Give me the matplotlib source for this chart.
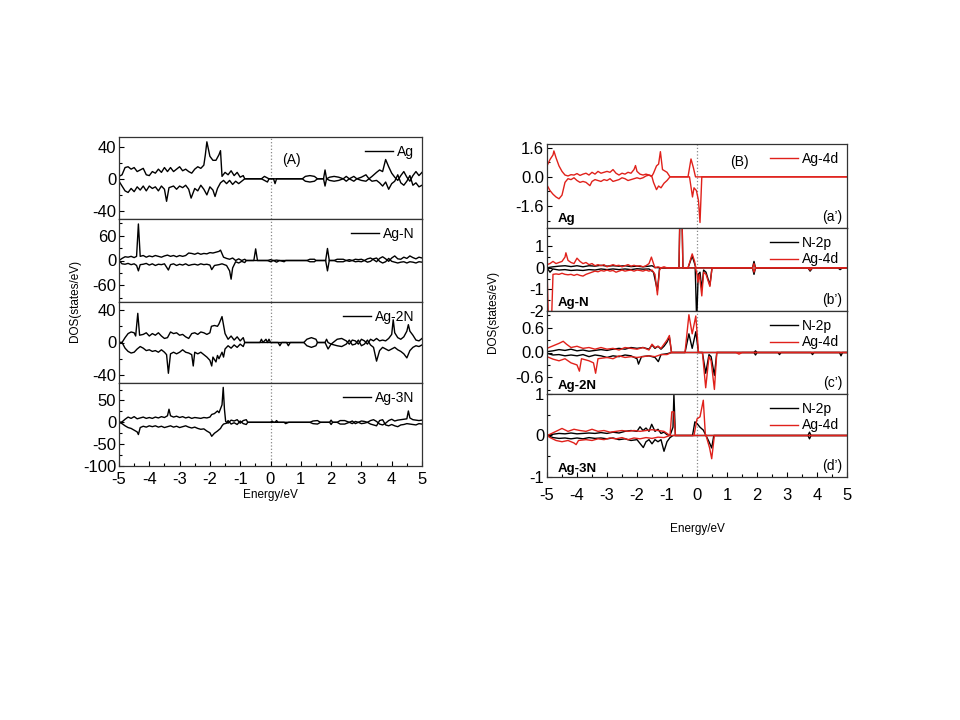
import matplotlib
matplotlib.use("Agg")
import matplotlib.pyplot as plt
from matplotlib.ticker import MultipleLocator

plt.rcParams['font.family'] = ['Liberation Sans', 'DejaVu Sans']
plt.rcParams['axes.unicode_minus'] = False

# ---------------- panel (A): total DOS, spin up / spin down ----------------
a1_up_e = [-5.0, -4.9, -4.8, -4.7, -4.6, -4.5, -4.4, -4.3, -4.2, -4.1, -4.0, -3.9, -3.8, -3.7, -3.6, -3.5, -3.4, -3.3, -3.2, -3.1, -3.0, -2.9, -2.8, -2.7, -2.6, -2.5, -2.4, -2.3, -2.2, -2.15, -2.1, -2.0, -1.9, -1.8, -1.7, -1.65, -1.6, -1.5, -1.4, -1.3, -1.2, -1.1, -1.0, -0.9, -0.85, -0.3, -0.2, -0.1, -0.05, 1.05, 1.15, 1.3, 1.45, 1.55, 1.75, 1.8, 1.85, 1.95, 2.1, 2.25, 2.4, 2.5, 2.6, 2.75, 2.85, 3.0, 3.15, 3.25, 3.35, 3.5, 3.6, 3.7, 3.8, 3.9, 4.0, 4.1, 4.2, 4.3, 4.4, 4.5, 4.6, 4.7, 4.8, 4.9, 5.0]
a1_up_v = [3, 5, 14, 15, 12, 14, 9, 11, 13, 5, 4, 9, 7, 12, 8, 14, 9, 14, 9, 12, 15, 10, 12, 9, 7, 12, 15, 13, 17, 30, 46, 28, 23, 23, 30, 35, 3, 8, 5, 10, 4, 8, 2, 4, 0, 0, 3, 1, 0, 0, 3, 4, 3, 0, 0, 11, 0, 2, 3, 2, 0, 3, 0, 3, 0, 2, 5, 0, 3, 8, 11, 9, 24, 15, 7, 2, -2, 4, 9, 2, -3, 4, 9, 4, 8]
a1_dn_e = [-5.0, -4.9, -4.8, -4.7, -4.6, -4.5, -4.4, -4.3, -4.2, -4.1, -4.0, -3.9, -3.8, -3.7, -3.6, -3.5, -3.43, -3.35, -3.2, -3.1, -3.0, -2.9, -2.8, -2.7, -2.62, -2.5, -2.4, -2.3, -2.2, -2.1, -2.0, -1.9, -1.83, -1.75, -1.65, -1.55, -1.45, -1.35, -1.25, -1.15, -1.05, -0.95, -0.85, -0.3, -0.2, -0.1, -0.05, 0.1, 0.15, 0.2, 1.05, 1.15, 1.3, 1.45, 1.55, 1.75, 1.8, 1.85, 1.95, 2.1, 2.25, 2.4, 2.5, 2.6, 2.75, 2.85, 3.0, 3.15, 3.25, 3.35, 3.5, 3.6, 3.7, 3.8, 3.9, 4.0, 4.1, 4.2, 4.3, 4.4, 4.5, 4.6, 4.7, 4.8, 4.9, 5.0]
a1_dn_v = [-3, -9, -15, -17, -12, -16, -10, -14, -9, -15, -9, -12, -10, -15, -9, -13, -28, -11, -9, -13, -9, -11, -8, -13, -24, -12, -15, -8, -13, -20, -10, -14, -22, -12, -5, -2, -6, -2, -7, -3, -6, -3, 0, 0, -2, -4, 0, 0, -6, 0, 0, -3, -4, -3, 0, 0, -9, 0, -2, -3, -2, 0, -3, 0, -3, 0, -2, -3, 0, -3, -2, -5, -9, -4, -13, -6, -3, 5, -5, -8, -3, 4, -8, -5, -10, -8]

a2_up_e = [-5.0, -4.9, -4.8, -4.7, -4.6, -4.5, -4.42, -4.36, -4.3, -4.2, -4.1, -4.0, -3.9, -3.8, -3.7, -3.6, -3.5, -3.4, -3.3, -3.2, -3.1, -3.0, -2.9, -2.8, -2.7, -2.6, -2.5, -2.4, -2.3, -2.2, -2.1, -2.0, -1.9, -1.8, -1.7, -1.65, -1.55, -1.45, -1.35, -1.25, -1.15, -1.05, -0.95, -0.85, -0.8, -0.55, -0.49, -0.43, -0.1, 0.0, 0.1, 0.2, 0.3, 1.2, 1.3, 1.45, 1.5, 1.82, 1.88, 1.94, 2.1, 2.2, 2.4, 2.5, 2.6, 2.7, 2.8, 2.9, 3.0, 3.1, 3.2, 3.3, 3.4, 3.5, 3.6, 3.7, 3.8, 3.9, 4.0, 4.1, 4.2, 4.3, 4.4, 4.5, 4.6, 4.7, 4.8, 4.9, 5.0]
a2_up_v = [0, 5, 9, 8, 10, 7, 10, 88, 10, 12, 8, 11, 9, 12, 10, 8, 11, 13, 10, 12, 9, 12, 10, 12, 18, 17, 15, 18, 15, 17, 16, 19, 18, 20, 22, 25, 8, 5, 3, 6, 0, 4, 0, 3, 0, 0, 28, 0, 0, 2, 0, 1, 0, 0, 3, 3, 0, 0, 29, 0, 0, 3, 3, 0, 2, 0, 3, 2, 3, 0, 4, 6, 2, -3, 5, 9, 4, -2, 6, 11, 4, 3, 8, 5, 11, 7, 4, 8, 6]
a2_dn_e = [-5.0, -4.9, -4.8, -4.7, -4.6, -4.5, -4.42, -4.36, -4.3, -4.2, -4.1, -4.0, -3.9, -3.8, -3.7, -3.6, -3.5, -3.37, -3.3, -3.2, -3.1, -3.0, -2.9, -2.8, -2.7, -2.6, -2.5, -2.4, -2.3, -2.2, -2.1, -2.0, -1.94, -1.85, -1.7, -1.6, -1.45, -1.35, -1.3, -1.25, -1.15, -1.05, -0.95, -0.85, -0.8, -0.1, 0.0, 0.1, 0.2, 0.3, 0.45, 0.5, 1.2, 1.3, 1.45, 1.5, 1.82, 1.88, 1.94, 2.1, 2.2, 2.4, 2.5, 2.6, 2.7, 2.8, 2.9, 3.0, 3.1, 3.2, 3.3, 3.4, 3.5, 3.6, 3.7, 3.8, 3.9, 4.0, 4.1, 4.2, 4.3, 4.4, 4.5, 4.6, 4.7, 4.8, 4.9, 5.0]
a2_dn_v = [0, -8, -9, -7, -10, -8, -12, -25, -10, -9, -7, -11, -8, -12, -9, -10, -8, -23, -10, -8, -12, -9, -11, -8, -12, -10, -9, -11, -8, -10, -9, -11, -22, -12, -10, -8, -12, -25, -45, -18, -3, -6, -2, -5, 0, 0, -3, 0, -4, 0, -3, 0, 0, -3, -3, 0, 0, -25, 0, 0, -3, -3, 0, -2, 0, -3, -2, -3, 0, -4, -2, 4, 6, -2, -6, -3, 5, -2, -4, -6, -4, -3, -6, -3, -4, -6, -3, -4]

a3_up_e = [-5.0, -4.9, -4.8, -4.7, -4.6, -4.5, -4.45, -4.38, -4.32, -4.2, -4.1, -4.0, -3.9, -3.8, -3.7, -3.6, -3.5, -3.4, -3.3, -3.2, -3.1, -3.0, -2.9, -2.8, -2.7, -2.6, -2.5, -2.4, -2.3, -2.2, -2.1, -2.0, -1.95, -1.85, -1.75, -1.7, -1.6, -1.5, -1.4, -1.3, -1.2, -1.1, -1.0, -0.9, -0.85, -0.35, -0.3, -0.25, -0.15, -0.1, -0.05, 0.0, 1.1, 1.2, 1.35, 1.5, 1.55, 1.8, 1.85, 1.9, 2.0, 2.2, 2.35, 2.5, 2.6, 2.7, 2.8, 2.9, 3.0, 3.1, 3.2, 3.3, 3.4, 3.5, 3.6, 3.7, 3.8, 3.9, 4.0, 4.05, 4.1, 4.2, 4.3, 4.4, 4.5, 4.55, 4.6, 4.7, 4.8, 4.9, 5.0]
a3_up_v = [0, 0, 6, 11, 13, 12, 8, 36, 9, 10, 12, 8, 11, 9, 12, 8, 5, 6, 13, 11, 12, 9, 10, 7, 5, 11, 12, 10, 13, 12, 10, 12, 20, 21, 20, 23, 32, 11, 4, 8, 3, 7, 2, 6, 0, 0, 4, 0, 4, 0, 4, 0, 0, 4, 6, 4, 0, 0, 4, 0, -2, 4, 5, 2, -2, 3, 2, -2, 4, 2, -2, 4, 2, 5, 2, 3, 2, 5, 10, 28, 12, 6, 4, 7, 14, 22, 14, 9, 3, 2, 5]
a3_dn_e = [-5.0, -4.9, -4.8, -4.7, -4.6, -4.5, -4.4, -4.3, -4.2, -4.1, -4.0, -3.9, -3.8, -3.7, -3.6, -3.5, -3.43, -3.37, -3.3, -3.2, -3.1, -3.0, -2.9, -2.8, -2.7, -2.6, -2.55, -2.5, -2.4, -2.3, -2.2, -2.1, -2.0, -1.94, -1.9, -1.8, -1.75, -1.7, -1.6, -1.55, -1.5, -1.4, -1.3, -1.2, -1.1, -1.0, -0.9, -0.85, 0.25, 0.31, 0.37, 0.53, 0.59, 0.65, 1.1, 1.2, 1.35, 1.5, 1.55, 1.8, 1.9, 2.0, 2.2, 2.35, 2.5, 2.6, 2.7, 2.8, 2.9, 3.0, 3.1, 3.2, 3.3, 3.4, 3.5, 3.6, 3.7, 3.8, 3.9, 4.0, 4.1, 4.2, 4.3, 4.4, 4.5, 4.6, 4.7, 4.8, 4.9, 5.0]
a3_dn_v = [0, 0, -7, -11, -13, -12, -8, -5, -7, -10, -9, -11, -10, -12, -9, -12, -15, -38, -14, -12, -14, -12, -9, -12, -13, -15, -29, -12, -14, -12, -15, -18, -22, -29, -18, -24, -16, -20, -12, -18, -8, -4, -7, -3, -6, -2, -5, 0, 0, -4, 0, 0, -4, 0, 0, -4, -6, -4, 0, 0, -8, -2, -4, -5, -2, 3, -3, -2, 3, -4, -2, 3, -3, -6, -23, -10, -6, -8, -10, -8, -6, -9, -11, -14, -19, -10, -6, -4, -5, -3]

a4_up_e = [-5.0, -4.9, -4.8, -4.7, -4.6, -4.5, -4.4, -4.3, -4.2, -4.1, -4.0, -3.9, -3.8, -3.7, -3.6, -3.5, -3.4, -3.35, -3.3, -3.2, -3.1, -3.0, -2.9, -2.8, -2.7, -2.6, -2.5, -2.4, -2.3, -2.2, -2.1, -2.0, -1.94, -1.85, -1.75, -1.7, -1.6, -1.56, -1.52, -1.48, -1.4, -1.3, -1.2, -1.1, -1.0, -0.9, -0.8, -0.75, 0.0, 0.05, 0.1, 0.15, 0.2, 0.25, 1.3, 1.4, 1.55, 1.65, 1.95, 2.0, 2.05, 2.2, 2.3, 2.45, 2.6, 2.7, 2.8, 2.9, 3.0, 3.1, 3.2, 3.3, 3.4, 3.5, 3.6, 3.7, 3.8, 3.9, 4.0, 4.1, 4.2, 4.3, 4.4, 4.5, 4.55, 4.6, 4.7, 4.8, 4.9, 5.0]
a4_up_v = [0, 1, 7, 12, 9, 13, 8, 10, 12, 9, 11, 9, 12, 10, 13, 11, 15, 30, 15, 12, 14, 11, 13, 10, 12, 9, 11, 10, 9, 11, 10, 12, 18, 20, 26, 22, 40, 80, 30, 2, -2, 5, 3, 6, -2, 4, 6, 0, 0, 3, 0, 0, 4, 0, 0, 3, 4, 0, 0, 5, 0, 0, 4, 4, 0, -3, 2, 0, 3, 2, 0, 4, 6, 2, -4, -6, -2, 4, 7, 3, 5, 6, 7, 8, 26, 10, 6, 5, 4, 5]
a4_dn_e = [-5.0, -4.9, -4.8, -4.7, -4.6, -4.5, -4.4, -4.36, -4.3, -4.2, -4.1, -4.0, -3.9, -3.8, -3.7, -3.6, -3.5, -3.4, -3.3, -3.2, -3.1, -3.0, -2.9, -2.8, -2.7, -2.6, -2.5, -2.4, -2.3, -2.2, -2.1, -2.0, -1.94, -1.85, -1.75, -1.65, -1.6, -1.55, -1.45, -1.4, -1.3, -1.2, -1.1, -1.0, -0.9, -0.8, -0.75, 0.45, 0.5, 0.6, 1.3, 1.4, 1.55, 1.65, 1.95, 2.0, 2.05, 2.2, 2.3, 2.45, 2.6, 2.7, 2.8, 2.9, 3.0, 3.1, 3.2, 3.3, 3.4, 3.5, 3.6, 3.7, 3.8, 3.9, 4.0, 4.1, 4.2, 4.3, 4.4, 4.5, 4.6, 4.7, 4.8, 4.9, 5.0]
a4_dn_v = [0, -3, -8, -12, -14, -18, -22, -28, -12, -9, -11, -8, -10, -8, -11, -9, -12, -10, -8, -11, -9, -12, -10, -8, -11, -13, -11, -14, -16, -15, -20, -24, -32, -25, -20, -14, -8, -4, -2, 4, -4, -1, -5, 3, -3, -5, 0, 0, -3, 0, 0, -3, -4, 0, 0, -5, 0, 0, -4, -4, 0, 3, -3, 0, -3, -2, 0, -4, -6, -8, 4, 6, -6, -8, -5, -8, -10, -6, -5, -3, -4, -5, -6, -3, -4]

# ---------------- panel (B): projected DOS, N-2p and Ag-4d ----------------
b1_d_up_e = [-5.0, -4.9, -4.8, -4.77, -4.7, -4.6, -4.5, -4.4, -4.3, -4.2, -4.1, -4.0, -3.9, -3.8, -3.7, -3.6, -3.5, -3.4, -3.3, -3.2, -3.1, -3.0, -2.9, -2.8, -2.7, -2.6, -2.5, -2.4, -2.3, -2.2, -2.1, -2.05, -2.0, -1.9, -1.8, -1.7, -1.6, -1.5, -1.45, -1.35, -1.28, -1.22, -1.15, -1.1, -1.0, -0.9, -0.3, -0.2, -0.12, -0.05, 5.0]
b1_d_up_v = [0.6, 0.95, 1.2, 1.42, 1.05, 0.6, 0.3, 0.1, 0.05, 0.12, 0.1, 0.18, 0.08, 0.15, 0.2, 0.1, 0.25, 0.15, 0.3, 0.2, 0.25, 0.3, 0.25, 0.4, 0.2, 0.1, 0.2, 0.15, 0.25, 0.2, 0.4, 0.62, 0.3, 0.15, 0.1, 0.15, 0.1, 0.05, 0.2, 0.6, 0.7, 1.38, 0.4, 0.35, 0.25, 0, 0, 0.98, 0.5, 0, 0]
b1_d_dn_e = [-5.0, -4.9, -4.8, -4.7, -4.6, -4.5, -4.4, -4.3, -4.2, -4.1, -4.0, -3.9, -3.8, -3.7, -3.57, -3.5, -3.4, -3.3, -3.2, -3.1, -3.0, -2.9, -2.8, -2.7, -2.6, -2.5, -2.4, -2.3, -2.2, -2.1, -2.0, -1.9, -1.8, -1.7, -1.6, -1.5, -1.45, -1.35, -1.28, -1.2, -1.1, -1.0, -0.9, -0.25, -0.15, -0.1, -0.02, 0.05, 0.1, 0.16, 5.0]
b1_d_dn_v = [-0.45, -0.75, -0.95, -1.1, -1.2, -1.0, -0.3, -0.1, -0.15, -0.05, -0.2, -0.3, -0.25, -0.3, -0.48, -0.25, -0.15, -0.2, -0.25, -0.15, -0.2, -0.1, -0.25, -0.2, -0.15, -0.05, -0.1, -0.2, -0.15, -0.1, -0.05, -0.1, -0.05, 0.05, 0.1, 0.0, -0.3, -0.7, -0.5, -0.6, -0.35, -0.2, 0, 0, -1.1, -0.6, -0.75, -1.3, -2.5, 0, 0]

b2_p_up_e = [-5.0, -4.9, -4.8, -4.6, -4.4, -4.2, -4.0, -3.8, -3.6, -3.4, -3.2, -3.0, -2.8, -2.6, -2.4, -2.2, -2.0, -1.8, -1.6, -1.5, -1.4, -1.2, -0.6, -0.57, -0.5, -0.47, -0.3, -0.16, -0.08, -0.04, 1.85, 1.9, 1.95, 5.0]
b2_p_up_v = [0, 0.03, 0.05, 0.08, 0.1, 0.06, 0.1, 0.05, 0.1, 0.08, 0.12, 0.08, 0.1, 0.08, 0.1, 0.06, 0.08, 0.05, 0.08, 0.1, 0.02, 0, 0, 2.5, 2.5, 0, 0, 0.55, 0.2, 0, 0, 0.3, 0, 0]
b2_p_dn_e = [-5.0, -4.9, -4.8, -4.6, -4.4, -4.2, -4.0, -3.8, -3.6, -3.4, -3.2, -3.0, -2.8, -2.6, -2.4, -2.2, -2.0, -1.8, -1.6, -1.45, -1.32, -1.25, -1.2, -0.06, -0.01, 0.04, 0.1, 0.16, 0.22, 0.3, 0.43, 0.5, 1.85, 1.9, 1.95, 3.7, 3.77, 3.85, 4.7, 4.77, 4.85, 5.0]
b2_p_dn_v = [0, -0.2, -0.05, -0.1, -0.08, -0.12, -0.1, -0.12, -0.08, -0.1, -0.05, -0.08, -0.05, -0.08, -0.05, -0.08, -0.04, -0.06, -0.05, -0.2, -1.05, -0.05, 0, 0, -2.5, -0.3, -0.2, -1.0, -0.1, -0.2, -0.8, 0, 0, -0.3, 0, 0, -0.15, 0, 0, -0.08, 0, 0]
b2_d_up_e = [-5.0, -4.9, -4.8, -4.7, -4.6, -4.5, -4.4, -4.37, -4.3, -4.2, -4.1, -4.0, -3.9, -3.8, -3.7, -3.6, -3.5, -3.4, -3.3, -3.2, -3.1, -3.0, -2.9, -2.8, -2.7, -2.6, -2.5, -2.4, -2.3, -2.2, -2.1, -2.0, -1.9, -1.8, -1.7, -1.6, -1.52, -1.45, -1.4, -1.3, -1.2, -1.1, -1.0, -0.6, -0.57, -0.5, -0.47, -0.3, -0.16, -0.08, -0.04, 1.85, 1.9, 1.95, 5.0]
b2_d_up_v = [0.15, 0.2, 0.3, 0.2, 0.25, 0.3, 0.5, 0.7, 0.35, 0.25, 0.2, 0.45, 0.3, 0.2, 0.25, 0.15, 0.2, 0.1, 0.15, 0.1, 0.15, 0.05, 0.1, 0.15, 0.1, 0.12, 0.05, 0.1, 0.15, 0.08, 0.12, 0.08, 0.1, 0.05, 0.1, 0.2, 0.5, 0.2, 0.0, 0.05, 0.0, 0.05, 0.0, 0, 2.5, 2.5, 0, 0, 0.65, 0.3, 0, 0, 0.2, 0, 0]
b2_d_dn_e = [-5.0, -4.95, -4.85, -4.8, -4.7, -4.6, -4.5, -4.4, -4.3, -4.2, -4.1, -4.0, -3.9, -3.8, -3.7, -3.6, -3.5, -3.4, -3.3, -3.2, -3.1, -3.0, -2.9, -2.8, -2.7, -2.6, -2.5, -2.4, -2.3, -2.2, -2.1, -2.0, -1.9, -1.8, -1.7, -1.6, -1.5, -1.4, -1.32, -1.25, -1.2, -0.05, 0.0, 0.03, 0.08, 0.16, 0.22, 0.3, 0.43, 0.5, 1.85, 1.9, 1.95, 3.7, 3.77, 3.85, 5.0]
b2_d_dn_v = [0, -2.5, -2.5, -0.3, -0.28, -0.3, -0.25, -0.3, -0.32, -0.3, -0.35, -0.3, -0.35, -0.38, -0.3, -0.25, -0.2, -0.15, -0.18, -0.12, -0.15, -0.1, -0.15, -0.12, -0.2, -0.15, -0.1, -0.15, -0.12, -0.1, -0.15, -0.1, -0.12, -0.15, -0.1, -0.15, -0.1, -0.3, -1.25, -0.1, 0, 0, -0.3, -0.66, -0.3, -1.3, -0.2, -0.3, -0.86, 0, 0, -0.2, 0, 0, -0.1, 0, 0]

b3_p_up_e = [-5.0, -4.8, -4.6, -4.4, -4.2, -4.0, -3.8, -3.6, -3.4, -3.2, -3.0, -2.8, -2.6, -2.4, -2.2, -2.0, -1.8, -1.6, -1.5, -1.4, -1.3, -1.2, -1.1, -1.0, -0.92, -0.85, -0.4, -0.27, -0.16, -0.04, 0.05, 1.9, 1.95, 2.0, 5.0]
b3_p_up_v = [0.02, 0.04, 0.07, 0.05, 0.08, 0.04, 0.06, 0.03, 0.05, 0.07, 0.05, 0.08, 0.1, 0.08, 0.12, 0.1, 0.12, 0.08, 0.18, 0.1, 0.15, 0.08, 0.15, 0.25, 0.37, 0, 0, 0.45, 0.1, 0.5, 0, 0, 0.04, 0, 0]
b3_p_dn_e = [-5.0, -4.8, -4.6, -4.4, -4.2, -4.0, -3.8, -3.6, -3.4, -3.2, -3.0, -2.8, -2.6, -2.4, -2.2, -2.0, -1.95, -1.85, -1.6, -1.4, -1.29, -1.2, -1.0, -0.85, 0.18, 0.29, 0.4, 0.47, 0.58, 0.66, 1.9, 1.95, 2.0, 2.7, 2.75, 2.8, 3.8, 3.85, 3.9, 4.75, 4.8, 4.85, 5.0]
b3_p_dn_v = [-0.02, -0.06, -0.05, -0.08, -0.06, -0.08, -0.05, -0.1, -0.06, -0.08, -0.12, -0.08, -0.1, -0.06, -0.08, -0.15, -0.28, -0.1, -0.08, -0.12, -0.22, -0.05, -0.03, 0, 0, -0.5, -0.05, -0.1, -0.55, 0, 0, -0.06, 0, 0, -0.05, 0, 0, -0.05, 0, 0, -0.08, 0, 0]
b3_d_up_e = [-5.0, -4.8, -4.6, -4.46, -4.35, -4.2, -4.0, -3.8, -3.6, -3.4, -3.2, -3.0, -2.8, -2.6, -2.4, -2.2, -2.0, -1.8, -1.6, -1.5, -1.4, -1.3, -1.2, -1.1, -1.0, -0.92, -0.85, -0.4, -0.27, -0.16, -0.04, 0.05, 5.0]
b3_d_up_v = [0.1, 0.16, 0.22, 0.27, 0.2, 0.12, 0.15, 0.1, 0.12, 0.08, 0.12, 0.08, 0.1, 0.06, 0.12, 0.1, 0.08, 0.12, 0.06, 0.2, 0.12, 0.15, 0.1, 0.2, 0.3, 0.41, 0, 0, 0.91, 0.45, 0.88, 0, 0]
b3_d_dn_e = [-5.0, -4.8, -4.6, -4.4, -4.2, -4.0, -3.92, -3.85, -3.6, -3.45, -3.38, -3.3, -3.0, -2.8, -2.6, -2.4, -2.2, -2.0, -1.8, -1.6, -1.4, -1.2, -1.0, -0.85, 0.18, 0.29, 0.4, 0.47, 0.58, 0.66, 1.3, 1.4, 1.5, 5.0]
b3_d_dn_v = [-0.1, -0.16, -0.2, -0.15, -0.25, -0.3, -0.45, -0.15, -0.2, -0.25, -0.5, -0.15, -0.12, -0.15, -0.08, -0.12, -0.1, -0.12, -0.1, -0.08, -0.1, -0.05, -0.05, 0, 0, -0.85, -0.1, -0.2, -0.89, 0, 0, -0.04, 0, 0]

b4_p_up_e = [-5.0, -4.8, -4.6, -4.4, -4.2, -4.0, -3.8, -3.6, -3.4, -3.2, -3.0, -2.8, -2.6, -2.4, -2.2, -2.0, -1.9, -1.8, -1.7, -1.6, -1.51, -1.4, -1.3, -1.2, -1.1, -1.0, -0.9, -0.8, -0.77, -0.72, -0.15, -0.07, 0.01, 0.1, 0.21, 0.3, 3.7, 3.75, 3.8, 5.0]
b4_p_up_v = [0, 0.03, 0.05, 0.04, 0.06, 0.04, 0.05, 0.06, 0.05, 0.07, 0.05, 0.08, 0.06, 0.1, 0.12, 0.1, 0.21, 0.12, 0.18, 0.1, 0.27, 0.1, 0.15, 0.05, 0.08, 0.02, 0, 0.2, 1.0, 0, 0, 0.33, 0.28, 0.2, 0.13, 0, 0, 0.08, 0, 0]
b4_p_dn_e = [-5.0, -4.8, -4.6, -4.4, -4.2, -4.0, -3.8, -3.6, -3.4, -3.2, -3.0, -2.8, -2.6, -2.4, -2.2, -2.0, -1.79, -1.7, -1.6, -1.5, -1.4, -1.3, -1.2, -1.1, -1.0, -0.9, -0.8, 0.3, 0.4, 0.49, 0.56, 3.7, 3.75, 3.8, 5.0]
b4_p_dn_v = [0, -0.05, -0.07, -0.06, -0.08, -0.06, -0.08, -0.05, -0.07, -0.06, -0.08, -0.06, -0.1, -0.08, -0.12, -0.1, -0.29, -0.15, -0.1, -0.2, -0.1, -0.15, -0.1, -0.38, -0.15, -0.05, 0, 0, -0.15, -0.3, 0, 0, -0.08, 0, 0]
b4_d_up_e = [-5.0, -4.9, -4.7, -4.5, -4.3, -4.1, -3.9, -3.7, -3.5, -3.3, -3.1, -2.9, -2.7, -2.5, -2.3, -2.1, -1.9, -1.7, -1.5, -1.3, -1.1, -1.0, -0.9, -0.84, -0.77, -0.72, -0.1, 0.0, 0.1, 0.21, 0.28, 5.0]
b4_d_up_v = [0, 0.03, 0.1, 0.17, 0.1, 0.15, 0.12, 0.1, 0.15, 0.1, 0.12, 0.08, 0.1, 0.12, 0.1, 0.12, 0.1, 0.12, 0.14, 0.12, 0.1, 0.05, 0, 0.57, 0.57, 0, 0, 0.4, 0.45, 0.85, 0, 0]
b4_d_dn_e = [-5.0, -4.9, -4.7, -4.5, -4.3, -4.1, -4.03, -3.95, -3.7, -3.5, -3.3, -3.1, -2.9, -2.7, -2.5, -2.3, -2.1, -1.9, -1.7, -1.5, -1.3, -1.1, -0.9, 0.3, 0.42, 0.49, 0.58, 5.0]
b4_d_dn_v = [0, -0.05, -0.12, -0.15, -0.12, -0.18, -0.22, -0.12, -0.1, -0.12, -0.08, -0.1, -0.06, -0.08, -0.05, -0.1, -0.06, -0.08, -0.05, -0.07, -0.04, -0.05, 0, 0, -0.3, -0.56, 0, 0]

a_names = ['Ag', 'Ag-N', 'Ag-2N', 'Ag-3N']
a_ylims = [(-50, 52), (-100, 100), (-50, 50), (-100, 90)]
a_yticks = [[-40, 0, 40], [-60, 0, 60], [-40, 0, 40], [-100, -50, 0, 50]]
a_minor = [20, 30, 20, 25]

b_names = ['Ag', 'Ag-N', 'Ag-2N', 'Ag-3N']
b_tags = ['(a\u2019)', '(b\u2019)', '(c\u2019)', '(d\u2019)']
b_ylims = [(-2.8, 1.8), (-2, 1.85), (-1, 1), (-1, 1)]
b_yticks = [[-1.6, 0.0, 1.6], [-2, -1, 0, 1], [-0.6, 0.0, 0.6], [-1, 0, 1]]
b_ticklabels = [['-1.6', '0.0', '1.6'], ['-2', '-1', '0', '1'], ['-0.6', '0.0', '0.6'], ['-1', '0', '1']]
b_minor = [0.8, 0.5, 0.3, 0.5]

a_data = [(a1_up_e, a1_up_v, a1_dn_e, a1_dn_v), (a2_up_e, a2_up_v, a2_dn_e, a2_dn_v),
          (a3_up_e, a3_up_v, a3_dn_e, a3_dn_v), (a4_up_e, a4_up_v, a4_dn_e, a4_dn_v)]
b_p = [None, (b2_p_up_e, b2_p_up_v, b2_p_dn_e, b2_p_dn_v), (b3_p_up_e, b3_p_up_v, b3_p_dn_e, b3_p_dn_v),
       (b4_p_up_e, b4_p_up_v, b4_p_dn_e, b4_p_dn_v)]
b_d = [(b1_d_up_e, b1_d_up_v, b1_d_dn_e, b1_d_dn_v), (b2_d_up_e, b2_d_up_v, b2_d_dn_e, b2_d_dn_v),
       (b3_d_up_e, b3_d_up_v, b3_d_dn_e, b3_d_dn_v), (b4_d_up_e, b4_d_up_v, b4_d_dn_e, b4_d_dn_v)]

W, H = 960, 720
fig = plt.figure(figsize=(W / 100, H / 100), dpi=100)


def px_axes(l, t, r, b):
    return fig.add_axes([l / W, 1 - b / H, (r - l) / W, (b - t) / H])


def style(ax, last, xpad):
    ax.set_xlim(-5, 5)
    ax.xaxis.set_major_locator(MultipleLocator(1))
    ax.xaxis.set_minor_locator(MultipleLocator(0.5))
    ax.tick_params(which='both', direction='in', top=False, right=False, labelsize=12, pad=2)
    ax.tick_params(which='major', length=3.5, width=0.8)
    ax.tick_params(which='minor', length=2.5, width=0.8)
    for s in ax.spines.values():
        s.set_linewidth(0.9)
        s.set_color('#333333')
    if not last:
        ax.tick_params(axis='x', which='both', labelbottom=False, length=0)
    else:
        ax.set_xticks(range(-5, 6))
        ax.set_xticklabels([str(i) for i in range(-5, 6)])
        ax.tick_params(axis='x', pad=xpad)
    ax.axvline(0, color='#888888', ls=':', lw=0.9, zorder=0)


# panel A
a_rows = [137, 219, 302, 383, 466]
for i in range(4):
    ax = px_axes(119, a_rows[i], 422, a_rows[i + 1])
    ue, uv, de, dv = a_data[i]
    ln, = ax.plot(ue, uv, color='black', lw=1.0, label=a_names[i])
    ax.plot(de, dv, color='black', lw=1.0)
    ax.set_ylim(*a_ylims[i])
    style(ax, i == 3, 4)
    ax.set_yticks(a_yticks[i])
    ax.yaxis.set_minor_locator(MultipleLocator(a_minor[i]))
    ax.legend(handles=[ln], loc='upper right', frameon=False, fontsize=10,
              handlelength=2.0, handletextpad=0.3, borderaxespad=0.15)
    if i == 3:
        ax.set_xlabel('Energy/eV', fontsize=8.5, labelpad=2)

fig.text(291 / W, 1 - 160 / H, '(A)', fontsize=10, ha='center', va='center')
fig.text(75 / W, 1 - 301 / H, 'DOS(states/eV)', fontsize=8.5, rotation=90, ha='center', va='center')

# panel B
b_rows = [144, 228, 311, 394, 477]
red = '#e0211b'
for i in range(4):
    ax = px_axes(547, b_rows[i], 847, b_rows[i + 1])
    handles = []
    if b_p[i] is not None:
        ue, uv, de, dv = b_p[i]
        lp, = ax.plot(ue, uv, color='black', lw=1.0, label='N-2p')
        ax.plot(de, dv, color='black', lw=1.0)
        handles.append(lp)
    ue, uv, de, dv = b_d[i]
    ld, = ax.plot(ue, uv, color=red, lw=1.0, label='Ag-4d')
    ax.plot(de, dv, color=red, lw=1.0)
    handles.append(ld)
    ax.set_ylim(*b_ylims[i])
    style(ax, i == 3, 8)
    ax.set_yticks(b_yticks[i])
    ax.set_yticklabels(b_ticklabels[i])
    ax.yaxis.set_minor_locator(MultipleLocator(b_minor[i]))
    ax.legend(handles=handles, loc='upper right', frameon=False, fontsize=10,
              handlelength=2.0, handletextpad=0.3, borderaxespad=0.15, labelspacing=0.2)
    ax.text(0.035, 0.03, b_names[i], transform=ax.transAxes, fontsize=9.5, fontweight='bold',
            ha='left', va='bottom')
    ax.text(0.985, 0.05, b_tags[i], transform=ax.transAxes, fontsize=10, ha='right', va='bottom')
    if i == 3:
        ax.set_xlabel('Energy/eV', fontsize=8.5, labelpad=14)

fig.text(739 / W, 1 - 162 / H, '(B)', fontsize=10, ha='center', va='center')
fig.text(493 / W, 1 - 312 / H, 'DOS(states/eV)', fontsize=8.5, rotation=90, ha='center', va='center')

fig.savefig('out.png', dpi=100)
